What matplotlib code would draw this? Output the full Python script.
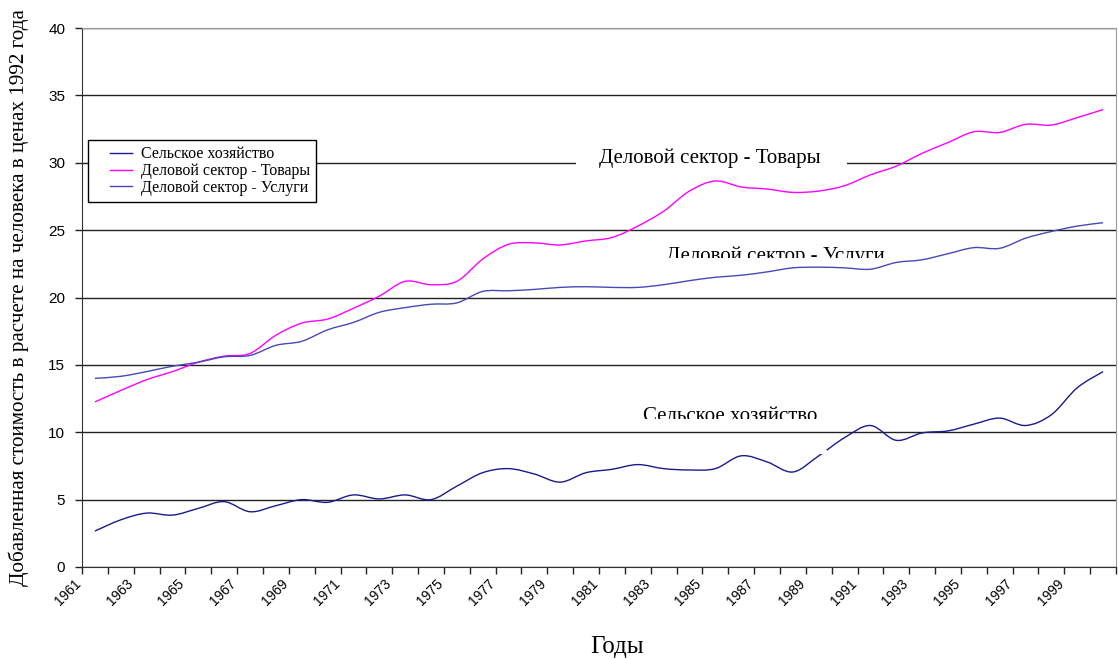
import numpy as np
import matplotlib
matplotlib.use('Agg')
import matplotlib.pyplot as plt
import matplotlib.transforms as mtransforms
from matplotlib.path import Path
from matplotlib.patches import PathPatch, Rectangle
from matplotlib.lines import Line2D

years = list(range(1961, 2001))

# Сельское хозяйство
agri = [2.67, 3.5, 4.0, 3.85, 4.35, 4.85, 4.1, 4.55, 5.0, 4.8,
        5.35, 5.05, 5.35, 5.0, 6.0, 7.0, 7.3, 6.9, 6.3, 7.0,
        7.25, 7.6, 7.3, 7.2, 7.3, 8.25, 7.8, 7.05, 8.25, 9.6,
        10.5, 9.4, 9.95, 10.1, 10.6, 11.05, 10.5, 11.3, 13.3, 14.5]
# Деловой сектор - Товары
goods = [12.25, 13.1, 13.9, 14.5, 15.2, 15.65, 15.85, 17.2, 18.1, 18.4,
         19.2, 20.1, 21.2, 20.95, 21.2, 22.85, 23.95, 24.05, 23.9, 24.2,
         24.45, 25.3, 26.4, 27.9, 28.65, 28.2, 28.05, 27.8, 27.9, 28.3,
         29.1, 29.75, 30.7, 31.5, 32.3, 32.25, 32.85, 32.8, 33.35, 33.95]
# Деловой сектор - Услуги
services = [14.0, 14.15, 14.5, 14.9, 15.2, 15.6, 15.7, 16.45, 16.75, 17.6,
            18.15, 18.9, 19.25, 19.5, 19.6, 20.45, 20.5, 20.6, 20.75, 20.8,
            20.75, 20.75, 20.95, 21.25, 21.5, 21.65, 21.9, 22.2, 22.25, 22.2,
            22.1, 22.6, 22.8, 23.25, 23.7, 23.65, 24.4, 24.9, 25.3, 25.55]

names = ['Сельское хозяйство', 'Деловой сектор - Товары', 'Деловой сектор - Услуги']
colors = ['#1a1a8c', '#ff00ff', '#4848b8']

SERIF = 'Liberation Serif'
SANS = 'Liberation Sans'


def smooth_path(x, y):
    # smoothed line like in Excel (Catmull-Rom as Bezier)
    pts = np.column_stack([x, y]).astype(float)
    n = len(pts)
    verts = [pts[0]]
    codes = [Path.MOVETO]
    for i in range(n - 1):
        p0 = pts[i - 1] if i > 0 else pts[i]
        p1 = pts[i]
        p2 = pts[i + 1]
        p3 = pts[i + 2] if i + 2 < n else pts[i + 1]
        verts += [p1 + (p2 - p0) / 6, p2 - (p3 - p1) / 6, p2]
        codes += [Path.CURVE4] * 3
    return Path(verts, codes)


x = np.arange(len(years))

fig = plt.figure(figsize=(11.18, 6.6), dpi=100)
ax = fig.add_axes([82 / 1118, 93 / 660, 1034 / 1118, 539 / 660])

ax.set_xlim(-0.5, len(years) - 0.5)
ax.set_ylim(0, 40)
ax.set_yticks(range(0, 41, 5))
ax.yaxis.grid(True, color='#222222', lw=1)
ax.set_axisbelow(True)

ax.tick_params(axis='both', direction='out', length=5, width=1, color='#222222')
ax.tick_params(axis='x', pad=4)
ax.tick_params(axis='y', pad=7)

ticks = np.arange(-0.5, len(years), 1)
labels = [str(y) if (y - 1961) % 2 == 0 else '' for y in years] + ['']
ax.set_xticks(ticks)
ax.set_xticklabels(labels, rotation=45, ha='right', va='top',
                   rotation_mode='anchor', family=SANS, fontsize=10)
# labels sit a bit left of the tick, as in the original
shift = mtransforms.ScaledTranslation(-8 / 100, 3 / 100, fig.dpi_scale_trans)
for t in ax.get_xticklabels():
    t.set_transform(t.get_transform() + shift)
for t in ax.get_yticklabels():
    t.set_family(SANS)
    t.set_fontsize(11)

for s in ['top', 'right']:
    ax.spines[s].set_color('#9a9a9a')
for s in ['left', 'bottom']:
    ax.spines[s].set_color('#333333')

for vals, c in zip([agri, goods, services], colors):
    ax.add_patch(PathPatch(smooth_path(x, vals), fill=False, edgecolor=c, lw=1.0, zorder=3))

# small break in the agriculture line (leader mark in the original)
ax.add_patch(Rectangle((28.05, 8.35), 0.28, 0.3, facecolor='white', edgecolor='none', zorder=3.5))

# white box under label "Товары"
ax.add_patch(Rectangle((18.6, 29.3), 10.5, 1.6, facecolor='white', edgecolor='none', zorder=2))
ax.text(23.8, 30.35, 'Деловой сектор - Товары', ha='center', va='center',
        family=SERIF, fontsize=15, zorder=4)

t1 = ax.text(26.33, 22.72, 'Деловой сектор - Услуги', ha='center', va='baseline',
             family=SERIF, fontsize=15, zorder=4, clip_on=True)
t1.set_clip_path(Rectangle((20, 22.95), 15, 3, transform=ax.transData))
t2 = ax.text(24.56, 10.82, 'Сельское хозяйство', ha='center', va='baseline',
             family=SERIF, fontsize=15, zorder=4, clip_on=True)
t2.set_clip_path(Rectangle((18, 10.98), 15, 3, transform=ax.transData))

handles = [Line2D([], [], color=c, lw=1.0, linestyle=(0, (0, 11, 17, 100))) for c in colors]
leg = ax.legend(handles, names, loc='upper left',
                bbox_to_anchor=(88 / 1118, 1 - 140 / 660), bbox_transform=fig.transFigure,
                prop={'family': SERIF, 'size': 11.5}, frameon=True, fancybox=False,
                edgecolor='black', framealpha=1, borderpad=0.4, labelspacing=0.05,
                handlelength=2.6, handletextpad=0.3, borderaxespad=0)
leg.get_frame().set_linewidth(1.0)

fig.text(19 / 1118, (660 - 298) / 660, 'Добавленная стоимость в расчете на человека в ценах 1992 года',
         rotation=90, ha='center', va='center', family=SERIF, fontsize=15.2)
fig.text(617 / 1118, (660 - 647) / 660, 'Годы', ha='center', va='center',
         family=SERIF, fontsize=18)

fig.savefig('out.png', dpi=100)
